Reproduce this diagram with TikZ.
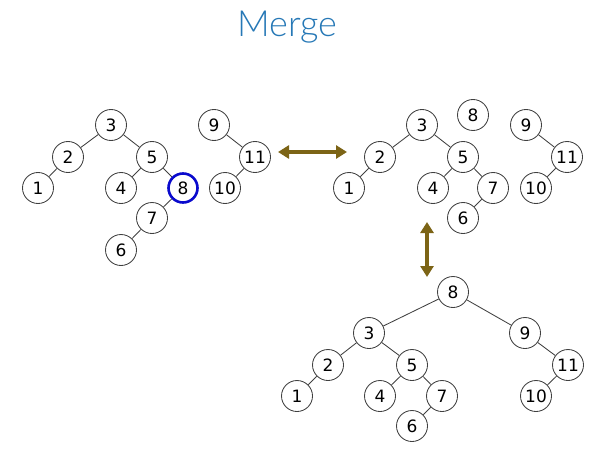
\documentclass[tikz,border=0pt]{standalone}
\usepackage{fontspec}
\setmainfont{DejaVu Sans}
\newfontfamily\titlefont{Lato Light}
\usetikzlibrary{arrows.meta}
\definecolor{titleblue}{RGB}{38,120,182}
\definecolor{olive}{RGB}{124,100,22}
\definecolor{ringblue}{RGB}{10,10,205}
\begin{document}
\begin{tikzpicture}[x=1pt,y=-1pt,
  tn/.style={circle,draw=black!75,line width=0.85pt,minimum size=31pt,inner sep=0pt,font=\fontsize{17}{17}\selectfont,fill=white},
  hl/.style={draw=ringblue,line width=2.6pt,minimum size=29pt},
  ed/.style={draw=black!75,line width=0.85pt},
  bigarrow/.style={olive,line width=4pt,{Triangle[width=13pt,length=11pt]}-{Triangle[width=13pt,length=11pt]}}]
\useasboundingbox (0,0) rectangle (593,449);
\node[font=\titlefont\fontsize{36}{36}\selectfont,text=titleblue] (title) at (287,27) {Merge};
% Tree 1 (left)
\node[tn] (a3) at (111,125) {3};
\node[tn] (a2) at (68,157) {2};
\node[tn] (a1) at (38,188) {1};
\node[tn] (a5) at (152,157) {5};
\node[tn] (a4) at (121,188) {4};
\node[tn,hl] (a8) at (183,188) {8};
\node[tn] (a7) at (152,218) {7};
\node[tn] (a6) at (121,250) {6};
\node[tn] (a9) at (214,125) {9};
\node[tn] (a11) at (255,157) {11};
\node[tn] (a10) at (225,188) {10};
\draw[ed] (a3)--(a2) (a2)--(a1) (a3)--(a5) (a5)--(a4) (a5)--(a8) (a8)--(a7) (a7)--(a6) (a9)--(a11) (a11)--(a10);
% Tree 2 (top right)
\node[tn] (b8) at (473,115) {8};
\node[tn] (b3) at (422,125) {3};
\node[tn] (b2) at (380,157) {2};
\node[tn] (b1) at (349,188) {1};
\node[tn] (b5) at (463,157) {5};
\node[tn] (b4) at (433,188) {4};
\node[tn] (b7) at (493,188) {7};
\node[tn] (b6) at (463,218) {6};
\node[tn] (b9) at (526,125) {9};
\node[tn] (b11) at (567,157) {11};
\node[tn] (b10) at (536,188) {10};
\draw[ed] (b3)--(b2) (b2)--(b1) (b3)--(b5) (b5)--(b4) (b5)--(b7) (b7)--(b6) (b9)--(b11) (b11)--(b10);
% Tree 3 (bottom)
\node[tn] (c8) at (453,292) {8};
\node[tn] (c3) at (369,333) {3};
\node[tn] (c2) at (328,365) {2};
\node[tn] (c1) at (297,396) {1};
\node[tn] (c5) at (412,365) {5};
\node[tn] (c4) at (380,396) {4};
\node[tn] (c7) at (442,396) {7};
\node[tn] (c6) at (412,426) {6};
\node[tn] (c9) at (525,333) {9};
\node[tn] (c11) at (568,365) {11};
\node[tn] (c10) at (536,396) {10};
\draw[ed] (c8)--(c3) (c8)--(c9) (c3)--(c2) (c2)--(c1) (c3)--(c5) (c5)--(c4) (c5)--(c7) (c7)--(c6) (c9)--(c11) (c11)--(c10);
% arrows
\coordinate (h1) at (278,152);
\coordinate (h2) at (347,152);
\coordinate (v1) at (427,222);
\coordinate (v2) at (427,277);
\draw[bigarrow] (h1)--(h2);
\draw[bigarrow] (v1)--(v2);
\end{tikzpicture}
\end{document}
